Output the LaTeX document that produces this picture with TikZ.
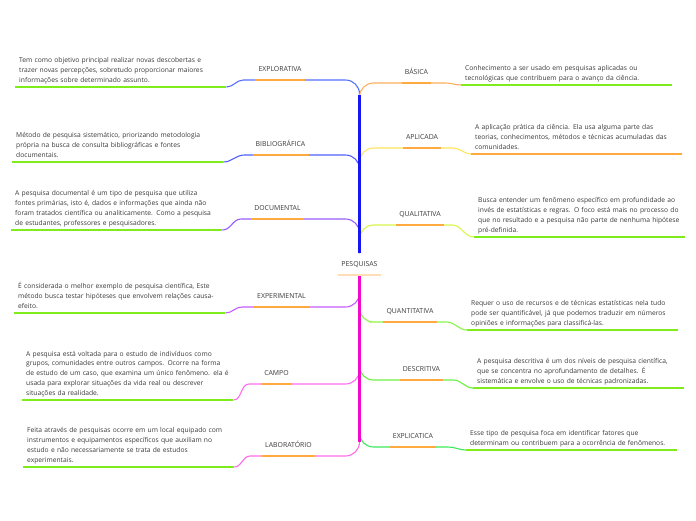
\documentclass[tikz,border=0pt]{standalone}
\usepackage{fontspec}
\setmainfont{Open Sans}
\usepackage{xcolor}
\usetikzlibrary{positioning, calc}

\definecolor{textocinza}{HTML}{3A3A3A}
\definecolor{azultronco}{HTML}{1616F2}
\definecolor{rosatronco}{HTML}{F20ACB}
\definecolor{laranja}{HTML}{FFAA40}
\definecolor{verde}{HTML}{80EC1C}
\definecolor{pessego}{HTML}{FFDDB5}
% cores dos ramos
\definecolor{cExplor}{HTML}{5570FF}
\definecolor{cBiblio}{HTML}{4F60FF}
\definecolor{cDoc}{HTML}{9A5CFF}
\definecolor{cExper}{HTML}{C45CFF}
\definecolor{cCampo}{HTML}{FF6BF0}
\definecolor{cLab}{HTML}{FF6BE6}
\definecolor{cBas}{HTML}{FFAE5C}
\definecolor{cApl}{HTML}{FFE45C}
\definecolor{cQual}{HTML}{D8F548}
\definecolor{cQuant}{HTML}{8CF548}
\definecolor{cDesc}{HTML}{6AF040}
\definecolor{cExplic}{HTML}{3CE85C}

\begin{document}
\begin{tikzpicture}[
        x=1pt, y=-1pt,
        font=\fontsize{6.7}{9.8}\selectfont,
        topico/.style={text=textocinza, anchor=south, font=\fontsize{6.9}{8}\selectfont, inner xsep=3pt, inner ysep=0pt, text height=5pt, text depth=8.7pt},
        descricao/.style={text=textocinza, text width=203pt, inner xsep=4pt, inner ysep=1.5pt, align=left, execute at end node=\strut},
        ramo/.style={line width=1.1pt},
        tronco/.style={line width=3.6pt},
        sublinhado/.style={draw=laranja, line width=1.6pt},
        linhadesc/.style={draw=verde, line width=2pt}
    ]
    \useasboundingbox (0,0) rectangle (696,520);

    % 1. Tópico central
    \node[topico] (root) at (359.5,275) {PESQUISAS};
    \coordinate (tCima) at ($(root.south)+(0,-22)$);
    \coordinate (tBaixo) at (root.south);

    % 2. Tópicos (texto acima do sublinhado)
    % lado esquerdo
    \node[topico] (lExplor) at (280,80) {EXPLORATIVA};
    \node[topico] (lBiblio) at (280.5,155) {BIBLIOGRÁFICA};
    \node[topico] (lDoc) at (277.5,219) {DOCUMENTAL};
    \node[topico] (lExper) at (281.5,307) {EXPERIMENTAL};
    \node[topico] (lCampo) at (276.5,384) {CAMPO};
    \node[topico] (lLab) at (288.5,456) {LABORATÓRIO};
    % lado direito
    \node[topico] (lBas) at (416.5,83) {BÁSICA};
    \node[topico] (lApl) at (422,148) {APLICADA};
    \node[topico] (lQual) at (420,225) {QUALITATIVA};
    \node[topico] (lQuant) at (410,322) {QUANTITATIVA};
    \node[topico] (lDesc) at (421.5,380) {DESCRITIVA};
    \node[topico] (lExplic) at (413,447) {EXPLICATICA};

    % 3. Descrições (ancoradas na linha verde)
    \node[descricao, anchor=south west] (dExplor) at (15,87) {Tem como objetivo principal realizar novas descobertas e\\ trazer novas percepções, sobretudo proporcionar maiores\\ informações sobre determinado assunto.};
    \node[descricao, anchor=south west] (dBiblio) at (12,162) {Método de pesquisa sistemático, priorizando metodologia\\ própria na busca de consulta bibliográficas e fontes\\ documentais.};
    \node[descricao, anchor=south west] (dDoc) at (11,230) {A pesquisa documental é um tipo de pesquisa que utiliza\\ fontes primárias, isto é, dados e informações que ainda não\\ foram tratados científica ou analiticamente. Como a pesquisa\\ de estudantes, professores e pesquisadores.};
    \node[descricao, anchor=south west] (dExper) at (14,313) {É considerada o melhor exemplo de pesquisa científica, Este\\ método busca testar hipóteses que envolvem relações causa-\\ efeito.};
    \node[descricao, anchor=south west] (dCampo) at (22,400) {A pesquisa está voltada para o estudo de indivíduos como\\ grupos, comunidades entre outros campos. Ocorre na forma\\ de estudo de um caso, que examina um único fenômeno. ela é\\ usada para explorar situações da vida real ou descrever\\ situações da realidade.};
    \node[descricao, anchor=south west] (dLab) at (23,467) {Feita através de pesquisas ocorre em um local equipado com\\ instrumentos e equipamentos específicos que auxiliam no\\ estudo e não necessariamente se trata de estudos\\ experimentais.};

    \node[descricao, anchor=south west] (dBas) at (461,85) {Conhecimento a ser usado em pesquisas aplicadas ou\\ tecnológicas que contribuem para o avanço da ciência.};
    \node[descricao, anchor=south west] (dApl) at (471,154) {A aplicação prática da ciência. Ela usa alguma parte das\\ teorias, conhecimentos, métodos e técnicas acumuladas das\\ comunidades.};
    \node[descricao, anchor=south west] (dQual) at (474,237) {Busca entender um fenômeno específico em profundidade ao\\ invés de estatísticas e regras. O foco está mais no processo do\\ que no resultado e a pesquisa não parte de nenhuma hipótese\\ pré-definida.};
    \node[descricao, anchor=south west] (dQuant) at (467,330) {Requer o uso de recursos e de técnicas estatísticas nela tudo\\ pode ser quantificável, já que podemos traduzir em números\\ opiniões e informações para classificá-las.};
    \node[descricao, anchor=south west] (dDesc) at (473,388) {A pesquisa descritiva é um dos níveis de pesquisa científica,\\ que se concentra no aprofundamento de detalhes. É\\ sistemática e envolve o uso de técnicas padronizadas.};
    \node[descricao, anchor=south west] (dExplic) at (466,450) {Esse tipo de pesquisa foca em identificar fatores que\\ determinam ou contribuem para a ocorrência de fenômenos.};

    % 4. Ramos (do tronco ao tópico e à descrição)
    \draw[ramo, cExplor] (tCima) [rounded corners=14pt] |- (lExplor.south east) [sharp corners] -- (lExplor.south west) -- ++(-12,0) to[out=180, in=0] (dExplor.south east);
    \draw[ramo, cBiblio] (tCima) [rounded corners=14pt] |- (lBiblio.south east) [sharp corners] -- (lBiblio.south west) -- ++(-8,0) to[out=180, in=0] (dBiblio.south east);
    \draw[ramo, cDoc] (tCima) [rounded corners=14pt] |- (lDoc.south east) [sharp corners] -- (lDoc.south west) -- ++(-10,0) to[out=180, in=0] (dDoc.south east);
    \draw[ramo, cExper] (tBaixo) [rounded corners=14pt] |- (lExper.south east) [sharp corners] -- (lExper.south west) -- ++(-12,0) to[out=180, in=0] (dExper.south east);
    \draw[ramo, cCampo] (tBaixo) [rounded corners=14pt] |- (lCampo.south east) [sharp corners] -- (lCampo.south west) -- ++(-12,0) to[out=180, in=0] (dCampo.south east);
    \draw[ramo, cLab] (tBaixo) [rounded corners=14pt] |- (lLab.south east) [sharp corners] -- (lLab.south west) -- ++(-12,0) to[out=180, in=0] (dLab.south east);

    \draw[ramo, cBas] (tCima) [rounded corners=14pt] |- (lBas.south west) [sharp corners] -- (lBas.south east) -- ++(14,0) to[out=0, in=180] (dBas.south west);
    \draw[ramo, cApl] (tCima) [rounded corners=14pt] |- (lApl.south west) [sharp corners] -- (lApl.south east) -- ++(12,0) to[out=0, in=180] (dApl.south west);
    \draw[ramo, cQual] (tCima) [rounded corners=14pt] |- (lQual.south west) [sharp corners] -- (lQual.south east) -- ++(8,0) to[out=0, in=180] (dQual.south west);
    \draw[ramo, cQuant] (tBaixo) [rounded corners=14pt] |- (lQuant.south west) [sharp corners] -- (lQuant.south east) -- ++(10,0) to[out=0, in=180] (dQuant.south west);
    \draw[ramo, cDesc] (tBaixo) [rounded corners=14pt] |- (lDesc.south west) [sharp corners] -- (lDesc.south east) -- ++(10,0) to[out=0, in=180] (dDesc.south west);
    \draw[ramo, cExplic] (tBaixo) [rounded corners=14pt] |- (lExplic.south west) [sharp corners] -- (lExplic.south east) -- ++(12,0) to[out=0, in=180] (dExplic.south west);

    % 5. Tronco
    \draw[tronco, azultronco] (tCima) -- ++(0,-158);
    \draw[tronco, rosatronco] (tBaixo) -- ++(0,167);

    % 6. Sublinhados
    \draw[pessego, line width=1.6pt] (root.south west) -- (root.south east);
    \foreach \t in {lExplor, lBiblio, lDoc, lExper, lCampo, lLab, lBas, lApl, lQual, lQuant, lDesc, lExplic}
        \draw[sublinhado] (\t.south west) -- (\t.south east);
    \foreach \d in {dExplor, dBiblio, dDoc, dExper, dCampo, dLab, dBas, dQual, dQuant, dDesc, dExplic}
        \draw[linhadesc] (\d.south west) -- (\d.south east);
    \draw[linhadesc, draw=laranja] (dApl.south west) -- (dApl.south east);

\end{tikzpicture}
\end{document}
